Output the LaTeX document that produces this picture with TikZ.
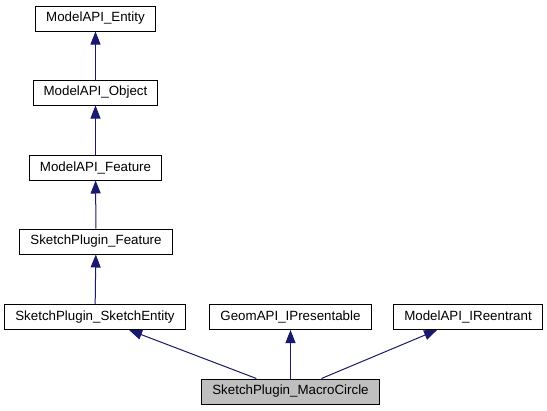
\documentclass[tikz,border=0pt]{standalone}
\usepackage{fontspec}
\setmainfont{Liberation Sans}
\usepackage{tikz}
\usetikzlibrary{arrows.meta}
\definecolor{edgeblue}{RGB}{25,25,112}
\definecolor{nodegray}{RGB}{191,191,191}
\tikzset{every picture/.style={line width=0.75pt}}
\tikzset{
  cls/.style={draw=black, fill=white, inner xsep=7.9pt, inner ysep=0pt, minimum height=18.75pt, font=\fontsize{10}{12}\selectfont},
  focus/.style={cls, fill=nodegray},
  inh/.style={draw=edgeblue, -{Triangle[length=9.75pt,width=7.5pt,fill=edgeblue]}}
}

\begin{document}
\begin{tikzpicture}[x=0.75pt,y=0.75pt,yscale=-1]
\useasboundingbox (0,0) rectangle (547,411);

% Class Nodes
\node [cls] (entity) at (95.5,18.5) {ModelAPI\_Entity};
\node [cls] (object) at (95.5,92.5) {ModelAPI\_Object};
\node [cls] (feature) at (95.5,167.5) {ModelAPI\_Feature};
\node [cls] (spfeature) at (96,241.5) {SketchPlugin\_Feature};
\node [cls] (sketchentity) at (95,317) {SketchPlugin\_SketchEntity};
\node [cls] (presentable) at (290.5,317) {GeomAPI\_IPresentable};
\node [cls] (reentrant) at (468,317) {ModelAPI\_IReentrant};
\node [focus] (macrocircle) at (290.5,391.5) {SketchPlugin\_MacroCircle};

% Inheritance Lines
\draw [inh] (object) -- (entity);
\draw [inh] (feature) -- (object);
\draw [inh] (spfeature) -- (feature);
\draw [inh] (sketchentity) -- (spfeature);
\draw [inh] (macrocircle) -- (sketchentity);
\draw [inh] (macrocircle) -- (presentable);
\draw [inh] (macrocircle) -- (reentrant);

\end{tikzpicture}
\end{document}
